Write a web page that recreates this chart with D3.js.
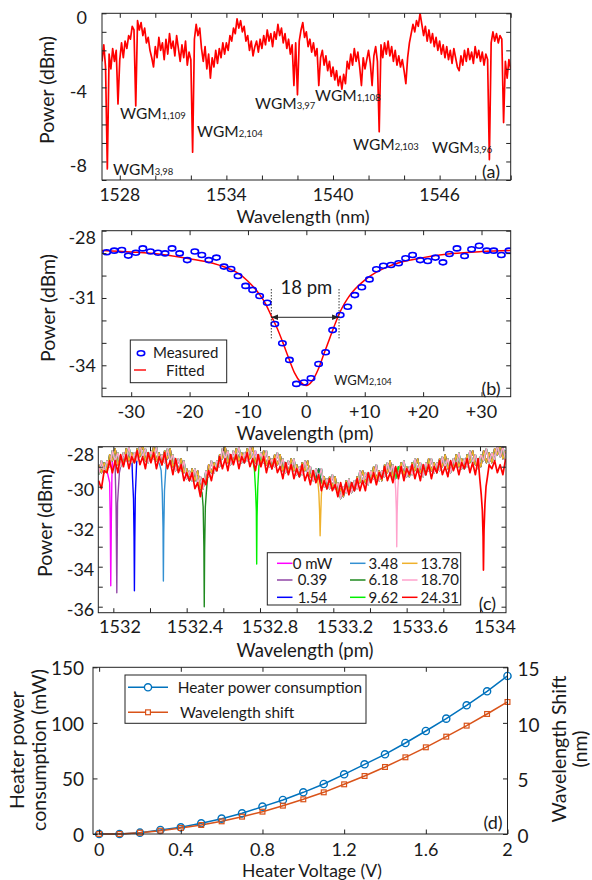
<!DOCTYPE html>
<html>
<head>
<meta charset="utf-8">
<script src="https://cdn.jsdelivr.net/npm/d3@7"></script>
<style>
  body { margin: 0; background: #fff; }
  text { font-family: Lato, "Open Sans", sans-serif; fill: #1a1a1a; }
</style>
</head>
<body>
<script>
// ---------- (a) broadband transmission spectrum ----------
var aStart = 1527, aStep = 0.1;   // nm grid of the trace
var aPower = [
  -2.6,-1.7,-2.9,-8.4,-2.2,-3.0,-1.9,-2.6,-2.0,-4.9,
  -2.5,-1.6,-2.4,-1.5,-1.9,-1.2,-1.4,-0.7,-0.9,-5.0,
  -0.4,-0.9,-0.5,-1.2,-0.8,-1.6,-1.3,-2.0,-2.4,-2.9,
  -1.8,-2.4,-1.3,-2.0,-1.6,-2.5,-1.4,-2.2,-1.1,-1.9,
  -1.5,-2.3,-1.2,-1.9,-2.6,-1.7,-2.4,-1.5,-2.8,-2.1,
  -2.5,-7.5,-1.4,-0.6,-1.2,-0.8,-1.9,-2.6,-1.8,-3.0,
  -2.2,-3.5,-2.4,-2.9,-2.0,-2.7,-1.9,-2.4,-1.6,-2.2,
  -1.6,-2.0,-1.2,-1.5,-0.8,-1.1,-0.3,-0.8,-0.4,-1.0,
  -0.7,-1.5,-1.2,-2.0,-1.5,-2.3,-1.8,-1.5,-2.1,-1.4,
  -1.9,-1.2,-1.7,-0.9,-1.5,-1.1,-1.8,-1.0,-1.4,-0.6,
  -1.2,-0.8,-1.6,-1.1,-1.9,-1.4,-2.2,-1.7,-3.9,-1.6,
  -4.4,-1.5,-0.9,-0.5,-1.3,-1.0,-1.8,-1.4,-2.1,-1.6,
  -2.3,-1.9,-3.9,-2.4,-2.0,-2.8,-2.3,-3.1,-2.6,-3.4,
  -2.9,-3.6,-3.1,-3.9,-3.4,-4.1,-3.3,-3.8,-2.6,-3.0,
  -2.2,-2.8,-1.9,-2.6,-2.1,-2.9,-3.9,-2.4,-3.0,-2.5,
  -2.0,-2.7,-3.9,-2.3,-1.8,-2.6,-6.4,-1.7,-2.4,-1.6,
  -2.2,-1.5,-2.3,-1.8,-2.6,-2.0,-2.8,-2.3,-2.9,-2.5,
  -3.1,-3.8,-2.4,-1.6,-1.1,-0.6,-1.0,-0.4,-0.7, 0.0,
  -0.6,-1.2,-0.7,-1.5,-0.9,-1.6,-1.1,-1.8,-1.3,-2.0,
  -1.5,-2.2,-1.7,-2.4,-1.8,-2.5,-2.0,-2.7,-1.9,-2.4,
  -2.9,-3.1,-2.3,-2.8,-2.0,-2.6,-1.9,-2.5,-2.1,-2.7,
  -1.8,-2.4,-2.0,-2.6,-2.1,-2.8,-2.2,-2.5,-7.9,-1.6,
  -1.0,-1.5,-1.1,-1.6,-1.2,-1.4,-5.9,-2.6,-3.5,-2.5,
  -3.0
];
var aXTicks = [1528,1530,1532,1534,1536,1538,1540,1542,1544,1546,1548,1550];
var aXLabels = [1528,1534,1540,1546];
var aYTicks = [-9,-8,-7,-6,-5,-4,-3,-2,-1,0];
var aYLabels = [0,-4,-8];
var aModeName = ["3,98","1,109","2,104","3,97","1,108","2,103","3,96"];
var aModeX = [113,120,197,255,315,353,432];
var aModeY = [175,119,137,109,101,150,153];

// ---------- (b) single resonance ----------
var bMeasX = [-34.2,-32.9,-31.6,-30.5,-29.2,-28.0,-26.7,-25.4,-24.2,-23.0,-21.7,-20.4,-19.1,-17.9,-16.7,-15.4,-14.1,-12.9,-11.7,-10.4,-9.2,-8.0,-6.7,-5.4,-4.1,-2.9,-1.7,-0.4,0.8,2.1,3.3,4.5,5.8,7.1,8.3,9.5,10.8,12.0,13.2,14.5,15.8,17.0,18.2,19.5,20.8,22.1,23.4,24.5,25.8,27.1,28.3,29.6,30.9,32.1,33.4,34.7];
var bMeasY = [-28.96,-28.89,-28.86,-29.11,-28.98,-28.79,-28.93,-28.98,-29.01,-28.79,-29.01,-29.31,-28.93,-29.08,-29.31,-29.2,-29.6,-29.71,-30.02,-30.46,-30.64,-30.91,-31.21,-32.16,-33.02,-33.76,-34.83,-34.77,-34.58,-33.94,-33.42,-32.43,-31.76,-31.39,-30.87,-30.52,-30.17,-29.72,-29.56,-29.53,-29.45,-29.23,-29.08,-29.31,-29.35,-29.2,-29.41,-29.04,-28.79,-29.13,-28.83,-28.67,-28.89,-28.89,-29.08,-28.89];
var bFitX = [-35,-30,-25,-20,-16,-14,-12,-10,-8,-7,-6,-5,-4,-3,-2,-1,0,1,2,3,4,5,6,7,8,10,12,14,16,20,25,30,35];
var bFitY = [-28.88,-28.95,-29.05,-29.25,-29.45,-29.62,-29.85,-30.25,-30.85,-31.25,-31.8,-32.35,-33.0,-33.7,-34.35,-34.75,-34.9,-34.7,-34.2,-33.5,-32.8,-32.1,-31.5,-31.05,-30.7,-30.2,-29.85,-29.6,-29.42,-29.2,-29.02,-28.93,-28.88];
var bXTicks = [-30,-20,-10,0,10,20,30];
var bXLabels = ["-30","-20","-10","0","+10","+20","+30"];
var bYTicks = [-35,-34,-33,-32,-31,-30,-29,-28];
var bYLabels = [-28,-31,-34];
var bFwhm = [-6.0, 5.6, -31.86];   // left, right (pm), level (dBm)

// ---------- (c) thermal tuning spectra ----------
var cStart = 1531.92, cStep = 0.015;
var cBgA = [-28.9,-29.3,-28.8,-29.2,-28.4,-28.7,-28.1,-28.9,-28.5,-28.9,
  -28.1,-28.7,-28.3,-28.8,-28.1,-28.5,-27.9,-28.7,-28.3,-28.7,
  -28.0,-28.7,-28.3,-28.9,-28.2,-28.6,-28.1,-29.0,-28.7,-29.2,
  -28.6,-29.3,-29.1,-29.7,-29.1,-29.7,-29.2,-30.1,-29.6,-29.8,
  -28.9,-29.3,-28.8,-29.2,-28.4,-28.6,-28.0,-28.8,-28.4,-28.8,
  -28.1,-28.7,-28.3,-28.8,-28.1,-28.6,-28.0,-28.8,-28.4,-28.9,
  -28.2,-28.9,-28.5,-29.1,-28.4,-28.9,-28.4,-29.2,-28.8,-29.3,
  -28.6,-29.2,-28.9,-29.5,-28.8,-29.2,-28.7,-29.5,-29.2,-29.7,
  -29.1,-29.8,-29.5,-30.1,-29.5,-30.0,-29.5,-30.4,-30.1,-30.5,
  -29.7,-30.2,-29.8,-30.2,-29.5,-29.8,-29.2,-29.8,-29.4,-29.7,
  -29.0,-29.6,-29.2,-29.7,-28.9,-29.3,-28.7,-29.5,-29.1,-29.5,
  -28.8,-29.4,-29.0,-29.5,-28.8,-29.2,-28.6,-29.3,-29.0,-29.4,
  -28.6,-29.2,-28.8,-29.3,-28.6,-29.0,-28.4,-29.1,-28.8,-29.1,
  -28.4,-29.0,-28.6,-29.1,-28.4,-28.8,-28.2,-28.9,-28.6,-29.0,
  -28.2,-28.8,-28.3,-28.8,-28.1,-28.4,-27.9,-28.6,-28.2];
var cBgB = [-29.4,-28.7,-29.3,-28.7,-29.0,-28.2,-28.7,-28.3,-29.0,-28.3,
  -28.7,-28.0,-28.8,-28.3,-28.7,-27.9,-28.5,-28.1,-28.8,-28.2,
  -28.6,-28.0,-28.8,-28.4,-28.8,-28.1,-28.7,-28.4,-29.2,-28.6,
  -29.2,-28.7,-29.6,-29.2,-29.7,-29.1,-29.8,-29.5,-30.1,-29.2,
  -29.5,-28.7,-29.3,-28.7,-29.0,-28.1,-28.6,-28.2,-28.9,-28.2,
  -28.6,-28.0,-28.8,-28.3,-28.7,-28.0,-28.6,-28.2,-28.9,-28.3,
  -28.8,-28.2,-29.0,-28.6,-29.0,-28.3,-29.0,-28.6,-29.3,-28.7,
  -29.1,-28.6,-29.4,-29.0,-29.4,-28.7,-29.3,-29.0,-29.7,-29.1,
  -29.6,-29.1,-30.0,-29.6,-30.1,-29.4,-30.1,-29.8,-30.6,-30.0,
  -30.3,-29.6,-30.3,-29.7,-30.1,-29.2,-29.8,-29.3,-29.9,-29.2,
  -29.6,-28.9,-29.7,-29.2,-29.5,-28.8,-29.3,-28.9,-29.6,-29.0,
  -29.3,-28.7,-29.5,-29.0,-29.4,-28.6,-29.2,-28.8,-29.5,-28.8,
  -29.2,-28.6,-29.3,-28.8,-29.2,-28.5,-29.0,-28.6,-29.3,-28.6,
  -29.0,-28.3,-29.1,-28.6,-29.0,-28.2,-28.8,-28.4,-29.1,-28.4,
  -28.7,-28.1,-28.8,-28.3,-28.7,-27.9,-28.5,-28.0,-28.7];
var cBgRed = [-29.7,-30.1,-29.2,-29.3,-28.7,-29.3,-28.7,-29.3,-28.4,-29.0,
  -28.4,-29.1,-28.5,-28.8,-28.2,-28.9,-28.5,-29.1,-28.3,-28.8,
  -28.3,-29.1,-28.5,-28.9,-28.3,-29.1,-28.7,-29.4,-28.6,-29.3,
  -28.9,-29.7,-29.3,-29.7,-29.3,-30.1,-29.8,-30.5,-29.6,-29.9,
  -29.2,-29.7,-29.0,-29.2,-28.5,-29.1,-28.6,-29.2,-28.4,-28.9,
  -28.4,-29.1,-28.5,-28.8,-28.3,-29.0,-28.6,-29.2,-28.4,-29.0,
  -28.5,-29.3,-28.7,-29.1,-28.6,-29.3,-29.0,-29.6,-28.8,-29.4,
  -28.9,-29.6,-29.1,-29.5,-28.9,-29.7,-29.3,-29.9,-29.2,-29.8,
  -29.4,-30.2,-29.7,-30.1,-29.6,-30.2,-29.9,-30.5,-29.8,-30.4,
  -29.8,-30.4,-29.8,-30.2,-29.6,-30.2,-29.7,-30.2,-29.3,-29.8,
  -29.3,-29.9,-29.3,-29.6,-29.0,-29.7,-29.3,-29.8,-29.0,-29.6,
  -29.0,-29.7,-29.1,-29.4,-28.9,-29.6,-29.1,-29.7,-28.9,-29.4,
  -28.9,-29.6,-29.0,-29.3,-28.7,-29.4,-29.0,-29.5,-28.7,-29.2,
  -28.8,-29.4,-28.8,-29.1,-28.6,-29.3,-28.8,-29.4,-28.6,-29.3,
  -28.7,-29.5,-28.9,-29.1,-28.7,-29.3,-28.9,-29.4,-28.6];
var cLabels = ["0 mW","0.39","1.54","3.48","6.18","9.62","13.78","18.70","24.31"];
var cColors = ["#ff00ff","#9146a6","#0000ff","#3390d2","#1f8a1f","#00f000","#efb12c","#ffa2cc","#ff0000"];
var cBgIndex = [0,1,0,1,0,1,0,1,2];
var cDipCenter = [1531.986,1532.019,1532.115,1532.273,1532.496,1532.782,1533.128,1533.546,1534.019];
var cDipProfiles = [
  [[-0.006,-29.8],[-0.003,-31.5],[0,-34.95],[0.003,-31.8],[0.006,-29.6]],
  [[-0.008,-29.5],[-0.004,-31.0],[0,-35.3],[0.004,-30.8],[0.008,-30.2],[0.014,-29.3]],
  [[-0.01,-29.6],[-0.005,-30.6],[-0.002,-32.5],[0,-35.2],[0.002,-32.8],[0.005,-30.4],[0.01,-29.3]],
  [[-0.012,-29.2],[-0.006,-30.3],[-0.002,-32.0],[0,-34.72],[0.002,-32.3],[0.006,-30.2],[0.012,-29.3]],
  [[-0.012,-30.3],[-0.006,-31.0],[-0.002,-33.0],[0,-36.0],[0.002,-33.2],[0.006,-31.0],[0.012,-30.2]],
  [[-0.012,-29.2],[-0.006,-30.2],[-0.002,-31.2],[0,-33.87],[0.002,-31.5],[0.006,-30.0],[0.012,-29.0]],
  [[-0.014,-29.6],[-0.007,-30.3],[-0.003,-31.2],[0,-32.45],[0.003,-31.5],[0.007,-30.4],[0.014,-29.6]],
  [[-0.012,-29.4],[-0.006,-30.1],[-0.002,-31.2],[0,-33.0],[0.002,-31.4],[0.006,-30.1],[0.012,-29.3]],
  [[-0.02,-29.6],[-0.012,-30.4],[-0.006,-31.2],[-0.002,-32.5],[0,-34.17],[0.003,-32.2],[0.008,-30.9],[0.014,-30.0],[0.022,-29.5]]
];
var cXTicks = [1532,1532.2,1532.4,1532.6,1532.8,1533,1533.2,1533.4,1533.6,1533.8,1534];
var cXLabels = [1532,1532.4,1532.8,1533.2,1533.6,1534];
var cYTicks = [-36,-35,-34,-33,-32,-31,-30,-29,-28];
var cYLabels = [-28,-30,-32,-34,-36];

// ---------- (d) heater characterisation ----------
var dVolt  = [0,0.1,0.2,0.3,0.4,0.5,0.6,0.7,0.8,0.9,1.0,1.1,1.2,1.3,1.4,1.5,1.6,1.7,1.8,1.9,2.0];
var dPower = [0,0,1.2,3.6,6,9.6,13.8,18.6,24.6,30.6,37.5,45,53.7,62.7,71.7,81.9,92.7,103.8,115.8,128.4,142.2];
var dShift = [0,0,0.12,0.3,0.54,0.81,1.14,1.56,2.01,2.55,3.12,3.75,4.47,5.22,6.03,6.9,7.8,8.76,9.75,10.8,11.88];
var dXTicks = [0,0.4,0.8,1.2,1.6,2];
var dYTicks = [0,50,100,150];
var dY2Ticks = [0,5,10,15];

var W = 592, H = 880;
var svg = d3.select("body").append("svg").attr("width", W).attr("height", H);

// frames of the four panels
var fA = {x0: 102, x1: 510.7, y0: 13.3, y1: 180};
var fB = {x0: 102, x1: 510.7, y0: 230.7, y1: 396.7};
var fC = {x0: 98.3, x1: 506, y0: 446.7, y1: 612.7};
var fD = {x0: 93, x1: 507.5, y0: 667.3, y1: 834};

var xA = d3.scaleLinear().domain([1527, 1550]).range([fA.x0, fA.x1]);
var yA = d3.scaleLinear().domain([-9, 0]).range([fA.y1, fA.y0]);
var xB = d3.scaleLinear().domain([-35, 35]).range([fB.x0, fB.x1]);
var yB = d3.scaleLinear().domain([-35.4, -28]).range([fB.y1, fB.y0]);
var xC = d3.scaleLinear().domain([1531.918, 1534.142]).range([fC.x0, fC.x1]);
var yC = d3.scaleLinear().domain([-36.3, -28]).range([fC.y1, fC.y0]);
// the tick labels of (c) sit on a slightly wider spread than its ticks
var xCLab = d3.scaleLinear().domain([1532, 1534]).range([120, 495]);
var xD = d3.scaleLinear().domain([-0.03, 2.0]).range([fD.x0, fD.x1]);
var yD = d3.scaleLinear().domain([0, 150]).range([fD.y1, fD.y0]);
var yD2 = d3.scaleLinear().domain([0, 15]).range([fD.y1, fD.y0]);

function inTicks(g, axis, tx, ty) {
  g.append("g")
   .attr("transform", "translate(" + tx + "," + ty + ")")
   .call(axis.tickSize(-4.5).tickFormat(""))
   .call(function(s) { s.select(".domain").remove(); s.selectAll("line").attr("stroke", "#222"); });
}

function frame(f, xs, ys, xt, yt, ys2, yt2) {
  inTicks(svg, d3.axisBottom(xs).tickValues(xt), 0, f.y1);
  inTicks(svg, d3.axisTop(xs).tickValues(xt), 0, f.y0);
  inTicks(svg, d3.axisLeft(ys).tickValues(yt), f.x0, 0);
  inTicks(svg, d3.axisRight(ys2 || ys).tickValues(yt2 || yt), f.x1, 0);
  svg.append("rect")
     .attr("x", f.x0).attr("y", f.y0)
     .attr("width", f.x1 - f.x0).attr("height", f.y1 - f.y0)
     .attr("fill", "none").attr("stroke", "#222").attr("stroke-width", 1);
}

function clip(id, f) {
  svg.append("clipPath").attr("id", id)
     .append("rect").attr("x", f.x0).attr("y", f.y0)
     .attr("width", f.x1 - f.x0).attr("height", f.y1 - f.y0);
  return svg.append("g").attr("clip-path", "url(#" + id + ")");
}

function label(x, y, txt, size, anchor) {
  return svg.append("text")
    .attr("x", x).attr("y", y)
    .attr("font-size", size + "px")
    .attr("text-anchor", anchor || "middle")
    .text(txt);
}

function vlabel(x, y, txt, size) {
  svg.append("text")
     .attr("transform", "translate(" + x + "," + y + ") rotate(-90)")
     .attr("text-anchor", "middle")
     .attr("dy", "0.35em")
     .attr("font-size", size + "px")
     .text(txt);
}

// subscripted mode name, e.g. WGM_{3,98}
function mode(x, y, sub, big, small) {
  var t = svg.append("text").attr("x", x).attr("y", y).attr("font-size", big + "px");
  t.append("tspan").text("WGM");
  t.append("tspan").attr("font-size", small + "px").text(sub);
}

// ================= panel (a) =================
var gA = clip("clipA", fA);
gA.append("path")
  .datum(aPower)
  .attr("fill", "none")
  .attr("stroke", "#ff0000")
  .attr("stroke-width", 1.7)
  .attr("stroke-linejoin", "round")
  .attr("d", d3.line()
    .x(function(d, i) { return xA(aStart + i * aStep); })
    .y(function(d) { return yA(d); }));
frame(fA, xA, yA, aXTicks, aYTicks);

aXLabels.forEach(function(v) { label(xA(v), 201, v, 17.5); });
aYLabels.forEach(function(v) { label(fA.x0 - 15, yA(v) + 4.5, v, 18, "end").attr("dy", "0.35em"); });
label(303, 222.5, "Wavelength (nm)", 18);
vlabel(47, 90, "Power (dBm)", 19.5);
aModeName.forEach(function(s, i) { mode(aModeX[i], aModeY[i], s, 15.5, 9.5); });
label(491, 177.5, "(a)", 18);

// ================= panel (b) =================
var gB = clip("clipB", fB);
gB.append("path")
  .datum(bFitX.map(function(x, i) { return [x, bFitY[i]]; }))
  .attr("fill", "none")
  .attr("stroke", "#ff0000")
  .attr("stroke-width", 1.5)
  .attr("d", d3.line()
    .curve(d3.curveMonotoneX)
    .x(function(d) { return xB(d[0]); })
    .y(function(d) { return yB(d[1]); }));
gB.selectAll("ellipse.meas")
  .data(bMeasX.map(function(x, i) { return [x, bMeasY[i]]; }))
  .enter().append("ellipse")
  .attr("cx", function(d) { return xB(d[0]); })
  .attr("cy", function(d) { return yB(d[1]); })
  .attr("rx", 3.7).attr("ry", 2.5)
  .attr("fill", "none").attr("stroke", "#0000ff").attr("stroke-width", 1.6);
frame(fB, xB, yB, bXTicks, bYTicks);

// FWHM marker
var defs = svg.append("defs");
defs.append("marker").attr("id", "arrowHead")
    .attr("viewBox", "0 0 10 10").attr("refX", 10).attr("refY", 5)
    .attr("markerWidth", 7).attr("markerHeight", 7).attr("orient", "auto-start-reverse")
    .append("path").attr("d", "M0,1 L10,5 L0,9 Z").attr("fill", "#222");
[bFwhm[0], bFwhm[1]].forEach(function(x) {
  svg.append("line")
     .attr("x1", xB(x)).attr("x2", xB(x))
     .attr("y1", yB(-30.6)).attr("y2", yB(-32.8))
     .attr("stroke", "#222").attr("stroke-width", 0.9).attr("stroke-dasharray", "1.5,1.5");
});
svg.append("line")
   .attr("x1", xB(bFwhm[0])).attr("x2", xB(bFwhm[1]))
   .attr("y1", yB(bFwhm[2])).attr("y2", yB(bFwhm[2]))
   .attr("stroke", "#222").attr("stroke-width", 1)
   .attr("marker-start", "url(#arrowHead)").attr("marker-end", "url(#arrowHead)");
label(xB(0), yB(-30.52) + 6.5, "18 pm", 18.5);

bXTicks.forEach(function(v, i) { label(xB(v), 418, bXLabels[i], 18); });
bYLabels.forEach(function(v, i) {
  label(fB.x0 - 6, yB(v) + (i === 0 ? 6.5 : 0), v, 18, "end").attr("dy", "0.35em");
});
label(305, 440, "Wavelength (pm)", 18.5);
vlabel(48, 308, "Power (dBm)", 19.5);
mode(334, 385, "2,104", 13, 9);
label(491, 394.5, "(b)", 18);

// legend (b)
svg.append("rect").attr("x", 130.3).attr("y", 340).attr("width", 96.4).attr("height", 42.7)
   .attr("fill", "#fff").attr("stroke", "#222").attr("stroke-width", 1);
svg.append("ellipse").attr("cx", 141).attr("cy", 353.3).attr("rx", 3.7).attr("ry", 2.5)
   .attr("fill", "none").attr("stroke", "#0000ff").attr("stroke-width", 1.6);
svg.append("line").attr("x1", 134).attr("x2", 146).attr("y1", 370).attr("y2", 370)
   .attr("stroke", "#ff0000").attr("stroke-width", 1.4);
label(153, 357.8, "Measured", 15, "start");
label(166, 375.8, "Fitted", 15, "start");

// ================= panel (c) =================
var cBgSets = [cBgA, cBgB, cBgRed];
function buildTrace(k) {
  var bg = cBgSets[cBgIndex[k]];
  var c = cDipCenter[k], prof = cDipProfiles[k];
  var lo = c + prof[0][0], hi = c + prof[prof.length - 1][0];
  var pts = [];
  bg.forEach(function(v, i) {
    var w = cStart + i * cStep;
    if (w < lo || w > hi) pts.push([w, v]);
  });
  prof.forEach(function(p) { pts.push([c + p[0], p[1]]); });
  pts.sort(function(a, b) { return a[0] - b[0]; });
  return pts;
}
var gC = clip("clipC", fC);
var lineC = d3.line()
  .x(function(d) { return xC(d[0]); })
  .y(function(d) { return yC(d[1]); });
cLabels.forEach(function(name, k) {
  gC.append("path")
    .datum(buildTrace(k))
    .attr("fill", "none")
    .attr("stroke", cColors[k])
    .attr("stroke-width", k === 8 ? 1.7 : 1.4)
    .attr("stroke-linejoin", "round")
    .attr("d", lineC);
});
frame(fC, xC, yC, cXTicks, cYTicks);

cXLabels.forEach(function(v) { label(xCLab(v), 633, v, 18); });
cYLabels.forEach(function(v, i) {
  label(fC.x0 - 4, yC(v) + (i === 0 ? 8 : 3), v, 18, "end").attr("dy", "0.35em");
});
label(305, 657, "Wavelength (pm)", 18.5);
vlabel(45, 523, "Power (dBm)", 19.5);
label(487.5, 609.5, "(c)", 18);

// legend (c), column-major
svg.append("rect").attr("x", 267.3).attr("y", 552.7).attr("width", 193.4).attr("height", 52.3)
   .attr("fill", "#fff").attr("stroke", "#222").attr("stroke-width", 1);
var legColX = [277, 350, 402];
var legRowY = [563.3, 580, 597.3];
cLabels.forEach(function(name, k) {
  var col = Math.floor(k / 3), row = k % 3;
  var lx = legColX[col];
  svg.append("line").attr("x1", lx).attr("x2", lx + 15.5)
     .attr("y1", legRowY[row]).attr("y2", legRowY[row])
     .attr("stroke", cColors[k]).attr("stroke-width", 1.5);
  if (col === 0) label(312.5, legRowY[row] + 5.3, name, 15);
  else label(lx + 18.5, legRowY[row] + 5.3, name, 15, "start");
});

// ================= panel (d) =================
var ptsPower = dVolt.map(function(v, i) { return [v, dPower[i]]; });
var ptsShift = dVolt.map(function(v, i) { return [v, dShift[i]]; });
var blue = "#0072bd", orange = "#d95319";
svg.append("path").datum(ptsPower)
   .attr("fill", "none").attr("stroke", blue).attr("stroke-width", 1.5)
   .attr("d", d3.line().x(function(d) { return xD(d[0]); }).y(function(d) { return yD(d[1]); }));
svg.append("path").datum(ptsShift)
   .attr("fill", "none").attr("stroke", orange).attr("stroke-width", 1.5)
   .attr("d", d3.line().x(function(d) { return xD(d[0]); }).y(function(d) { return yD2(d[1]); }));
svg.selectAll("circle.pw").data(ptsPower).enter().append("circle")
   .attr("cx", function(d) { return xD(d[0]); })
   .attr("cy", function(d) { return yD(d[1]); })
   .attr("r", 3.6).attr("fill", "none").attr("stroke", blue).attr("stroke-width", 1.4);
svg.selectAll("rect.sh").data(ptsShift).enter().append("rect")
   .attr("x", function(d) { return xD(d[0]) - 2.4; })
   .attr("y", function(d) { return yD2(d[1]) - 2.4; })
   .attr("width", 4.8).attr("height", 4.8)
   .attr("fill", "none").attr("stroke", orange).attr("stroke-width", 1.2);
frame(fD, xD, yD, dXTicks, dYTicks, yD2, dY2Ticks);

dXTicks.forEach(function(v) { label(xD(v), 855.5, v, 18); });
dYTicks.forEach(function(v) { label(fD.x0 - 9, yD(v) + 1, v, 19, "end").attr("dy", "0.35em"); });
dY2Ticks.forEach(function(v) { label(fD.x1 + 10, yD2(v) + 2, v, 19, "start").attr("dy", "0.35em"); });
label(312, 876.5, "Heater Voltage (V)", 17.5);
vlabel(17, 750, "Heater power", 19.5);
vlabel(39, 750, "consumption (mW)", 19.5);
vlabel(559, 749, "Wavelength Shift", 19.5);
vlabel(580, 749, "(nm)", 19.5);
label(493, 829, "(d)", 18);

// legend (d)
svg.append("rect").attr("x", 125).attr("y", 675).attr("width", 241).attr("height", 48.3)
   .attr("fill", "#fff").attr("stroke", "#222").attr("stroke-width", 1);
svg.append("line").attr("x1", 128).attr("x2", 168).attr("y1", 687.3).attr("y2", 687.3)
   .attr("stroke", blue).attr("stroke-width", 1.5);
svg.append("circle").attr("cx", 148).attr("cy", 687.3).attr("r", 3.6)
   .attr("fill", "#fff").attr("stroke", blue).attr("stroke-width", 1.4);
svg.append("line").attr("x1", 128).attr("x2", 168).attr("y1", 712.3).attr("y2", 712.3)
   .attr("stroke", orange).attr("stroke-width", 1.5);
svg.append("rect").attr("x", 145.6).attr("y", 709.9).attr("width", 4.8).attr("height", 4.8)
   .attr("fill", "#fff").attr("stroke", orange).attr("stroke-width", 1.2);
label(177.7, 692.5, "Heater power consumption", 15.4, "start");
label(180, 717.5, "Wavelength shift", 15.4, "start");
</script>
</body>
</html>
